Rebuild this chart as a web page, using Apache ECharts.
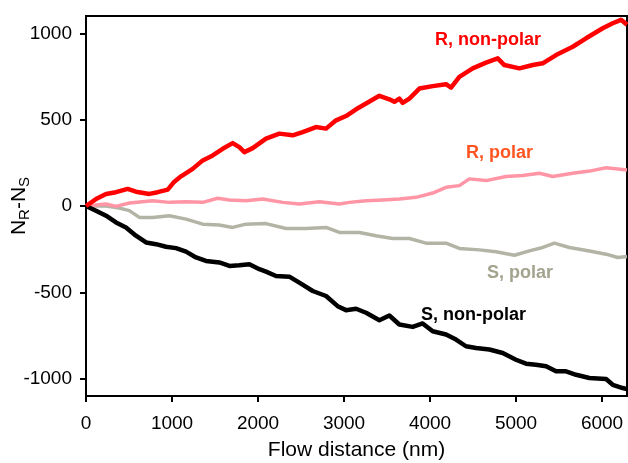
<!DOCTYPE html>
<html>
<head>
<meta charset="utf-8">
<script src="https://cdn.jsdelivr.net/npm/echarts@6/dist/echarts.min.js"></script>
<style>
html, body { margin: 0; padding: 0; background: #fff; }
#chart { width: 628px; height: 463px; }
</style>
</head>
<body>
<div id="chart"></div>
<script>
// [flow distance (nm), N_R - N_S]
var rNonPolar = [[0,0],[116,40],[233,70],[349,80],[485,99],[581,83],[736,70],[833,80],[950,95],[1027,141],[1105,172],[1240,215],[1357,264],[1473,293],[1589,331],[1705,364],[1783,341],[1841,312],[1938,335],[2093,390],[2248,419],[2403,409],[2519,428],[2674,457],[2791,448],[2907,496],[3023,521],[3140,560],[3256,593],[3411,638],[3527,618],[3585,603],[3643,622],[3682,597],[3760,622],[3876,680],[4031,694],[4186,705],[4244,686],[4341,748],[4496,797],[4651,830],[4787,855],[4864,816],[5039,797],[5194,816],[5310,826],[5465,874],[5659,922],[5814,971],[6008,1029],[6124,1058],[6221,1078],[6290,1050]]
var rPolar = [[0,0],[233,12],[349,-2],[504,17],[775,31],[969,21],[1163,25],[1357,21],[1531,45],[1667,35],[1860,31],[2054,41],[2287,21],[2480,12],[2713,25],[2946,12],[3062,21],[3256,31],[3450,35],[3643,41],[3837,50],[4031,75],[4186,108],[4341,118],[4457,157],[4651,147],[4884,171],[5078,176],[5272,190],[5426,171],[5659,190],[5853,202],[6047,221],[6290,209]]
var sPolar = [[0,0],[233,0],[388,-12],[504,-27],[620,-66],[775,-66],[969,-56],[1163,-76],[1357,-105],[1550,-110],[1705,-124],[1860,-105],[2093,-102],[2326,-130],[2558,-130],[2791,-124],[2946,-153],[3178,-153],[3372,-172],[3566,-188],[3760,-188],[3953,-215],[4186,-215],[4341,-246],[4574,-254],[4767,-265],[4981,-285],[5155,-260],[5310,-240],[5446,-215],[5620,-240],[5853,-260],[6047,-279],[6182,-298],[6290,-293]]
var sNonPolar = [[0,0],[116,-27],[233,-56],[349,-95],[465,-124],[581,-172],[698,-211],[814,-221],[930,-236],[1047,-244],[1163,-264],[1279,-298],[1395,-318],[1550,-327],[1667,-347],[1783,-343],[1899,-337],[2016,-366],[2093,-380],[2209,-405],[2364,-409],[2480,-444],[2636,-492],[2791,-521],[2926,-580],[3023,-603],[3140,-595],[3256,-618],[3411,-661],[3527,-634],[3643,-686],[3798,-700],[3914,-680],[4031,-725],[4186,-744],[4302,-773],[4418,-812],[4535,-822],[4690,-831],[4845,-851],[4999,-890],[5116,-913],[5232,-919],[5349,-928],[5465,-957],[5581,-957],[5698,-977],[5853,-996],[6047,-1002],[6124,-1035],[6240,-1054],[6290,-1060]]

var xTicks = [0, 1000, 2000, 3000, 4000, 5000, 6000]
var yTicks = [-1000, -500, 0, 500, 1000]

var chart = echarts.init(document.getElementById("chart"))

function lineSeries(name, data, color, width) {
    return {
        name: name,
        type: "line",
        data: data,
        showSymbol: false,
        lineStyle: { color: color, width: width, join: "round" },
        z: 3
    }
}

var labelFont = "Liberation Sans, Arial, sans-serif"
// plain numbers, no thousands separator
var plain = function(v) { return String(v) }

var option = {
    animation: false,
    grid: {
        left: 86,
        right: 1,
        top: 16,
        bottom: 67,
        outerBoundsMode: "none",
        containLabel: false,
        show: true,
        borderColor: "#000",
        borderWidth: 2
    },
    xAxis: {
        type: "value",
        min: 0,
        max: 6290,
        name: "Flow distance (nm)",
        nameLocation: "middle",
        nameMoveOverlap: false,
        nameGap: 44,
        nameTextStyle: { fontFamily: labelFont, fontSize: 21, color: "#000" },
        axisLine: { onZero: false, lineStyle: { color: "#000", width: 2 } },
        axisTick: { customValues: xTicks, length: 6, lineStyle: { color: "#000", width: 2 } },
        axisLabel: { customValues: xTicks, formatter: plain, margin: 18, fontFamily: labelFont, fontSize: 19, color: "#000" },
        splitLine: { show: false }
    },
    yAxis: {
        type: "value",
        min: -1100,
        max: 1100,
        name: "{n|N}{s|R}{n|-N}{s|S}",
        nameLocation: "middle",
        nameRotate: 90,
        nameMoveOverlap: false,
        nameGap: 54,
        nameTextStyle: {
            rich: {
                n: { fontFamily: labelFont, fontSize: 21, color: "#000" },
                s: { fontFamily: labelFont, fontSize: 15, color: "#000", padding: [10, 0, 0, 0] }
            }
        },
        axisLine: { onZero: false, lineStyle: { color: "#000", width: 2 } },
        axisTick: { customValues: yTicks, length: 6, lineStyle: { color: "#000", width: 2 } },
        axisLabel: { customValues: yTicks, formatter: plain, margin: 14, fontFamily: labelFont, fontSize: 19, color: "#000" },
        splitLine: { show: false }
    },
    series: [
        lineSeries("S, polar", sPolar, "#b4b4a6", 3.5),
        lineSeries("R, polar", rPolar, "#ff95a5", 3.5),
        lineSeries("S, non-polar", sNonPolar, "#000000", 4.5),
        lineSeries("R, non-polar", rNonPolar, "#ff0000", 4.5)
    ],
    graphic: [
        { type: "text", left: 435, top: 31, style: { text: "R, non-polar", fill: "#ff0000", font: "bold 18px " + labelFont } },
        { type: "text", left: 466, top: 144, style: { text: "R, polar", fill: "#ff5522", font: "bold 18px " + labelFont } },
        { type: "text", left: 487, top: 264, style: { text: "S, polar", fill: "#a3a38e", font: "bold 18px " + labelFont } },
        { type: "text", left: 421, top: 306, style: { text: "S, non-polar", fill: "#000000", font: "bold 18px " + labelFont } }
    ]
}

chart.setOption(option)
</script>
</body>
</html>
